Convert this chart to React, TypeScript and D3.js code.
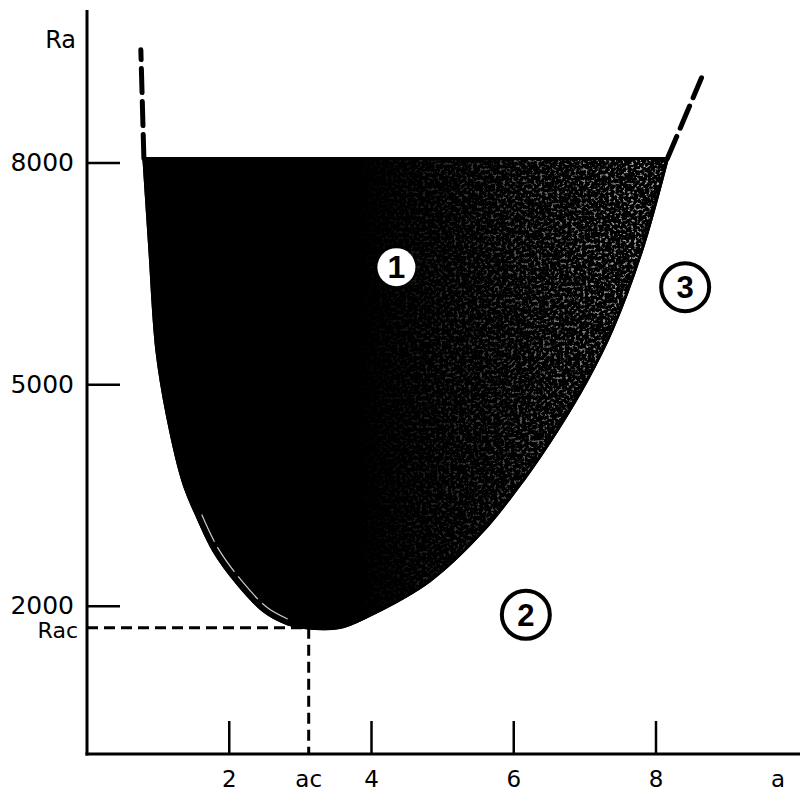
import * as d3 from 'd3';

// neutral curve (wave number a, Rayleigh number Ra)
const boundaryA  = [0.80, 0.884, 0.982, 1.136, 1.36, 1.557, 1.781, 2.118, 2.482, 2.819, 3.05, 3.55, 3.98, 4.82, 5.57, 6.13, 6.61, 7.03, 7.38, 7.80, 8.16];
const boundaryRa = [8060, 6820, 5464, 4556, 3661, 3200, 2753, 2305, 1939, 1763, 1712, 1712, 1880, 2346, 3024, 3702, 4380, 5058, 5736, 6820, 8060];

// dashed continuation above the cut
const leftDashA   = [0.80, 0.757];
const leftDashRa  = [8060, 9532];
const rightDashA  = [8.16, 8.64];
const rightDashRa = [8060, 9153];

const xTicks = [2, 4, 6, 8];
const yTicks = [8000, 5000, 2000];
const Rac = 1708;
const ac = 3.117;

const regionLabels = ['1', '3', '2'];
const regionA  = [4.35, 8.41, 6.17];
const regionRa = [6590, 6319, 1885];

const W = 801, H = 794;
const FONT = 'DejaVu Sans, sans-serif';

export default function App() {
  const x = d3.scaleLinear().domain([0, 8]).range([87, 656]);
  const y = d3.scaleLinear().domain([0, 8000]).range([754, 163]);

  const pts: [number, number][] = boundaryA.map((a, i) => [a, boundaryRa[i]]);
  const line = d3.line<[number, number]>().x(d => x(d[0])).y(d => y(d[1])).curve(d3.curveCatmullRom.alpha(0.5));
  const area = line(pts) + 'Z';
  const rim = line(pts.slice(5, 10));
  const dashLine = d3.line<[number, number]>().x(d => x(d[0])).y(d => y(d[1]));
  const leftDash  = dashLine(leftDashA.map((a, i) => [a, leftDashRa[i]]));
  const rightDash = dashLine(rightDashA.map((a, i) => [a, rightDashRa[i]]));

  const x0 = x(0), y0 = y(0);
  const tickLen = 33;

  return (
    <svg width={W} height={H} style={{ position: 'absolute', left: 0, top: 0, background: '#fff' }}>
      <defs>
        <clipPath id="shadeClip"><path d={area} /></clipPath>
        <linearGradient id="fade" gradientUnits="userSpaceOnUse" x1={x(3.8)} y1={0} x2={x(7.8)} y2={0}>
          <stop offset="0" stopColor="#fff" stopOpacity={0} />
          <stop offset="0.45" stopColor="#fff" stopOpacity={0.35} />
          <stop offset="1" stopColor="#fff" stopOpacity={0.9} />
        </linearGradient>
        <mask id="fadeMask" maskUnits="userSpaceOnUse" x={0} y={0} width={W} height={H}>
          <rect x={0} y={0} width={W} height={H} fill="url(#fade)" />
        </mask>
        <filter id="speckle" x="0" y="0" width="100%" height="100%">
          <feTurbulence type="fractalNoise" baseFrequency="0.35" numOctaves="3" seed="11" />
          <feColorMatrix type="matrix" values="0 0 0 0 1  0 0 0 0 1  0 0 0 0 1  5 0 0 0 -2.75" />
        </filter>
      </defs>

      {/* shaded region */}
      <path d={area} fill="#000" stroke="#000" strokeWidth={3} strokeLinejoin="round" />
      <g clipPath="url(#shadeClip)" mask="url(#fadeMask)">
        <rect x={x(3)} y={y(8200)} width={x(8.3) - x(3)} height={y(1600) - y(8200)} filter="url(#speckle)" opacity={0.75} />
      </g>
      <path d={area} fill="none" stroke="#000" strokeWidth={3} />
      <path d={rim ?? ''} transform="translate(4,-3)" fill="none" stroke="#fff" strokeWidth={1.2} strokeDasharray="30 6" opacity={0.8} />

      {/* dashed continuations */}
      <path d={leftDash ?? ''} fill="none" stroke="#000" strokeWidth={5} strokeDasharray="24 9" strokeLinecap="round" />
      <path d={rightDash ?? ''} fill="none" stroke="#000" strokeWidth={5} strokeDasharray="24 9" strokeLinecap="round" />

      {/* Rac / ac guides */}
      <line x1={x0} x2={x(ac) - 6} y1={y(Rac)} y2={y(Rac)} stroke="#000" strokeWidth={3} strokeDasharray="11 6" />
      <line x1={x(ac)} x2={x(ac)} y1={y(Rac)} y2={y0} stroke="#000" strokeWidth={3} strokeDasharray="11 6" />

      {/* axes */}
      <line x1={x0} x2={x0} y1={10} y2={y0 + 1.5} stroke="#000" strokeWidth={3} />
      <line x1={x0 - 1.5} x2={800} y1={y0} y2={y0} stroke="#000" strokeWidth={3} />

      {xTicks.map(t => (
        <g key={'x' + t}>
          <line x1={x(t)} x2={x(t)} y1={y0} y2={y0 - tickLen} stroke="#000" strokeWidth={2.5} />
          <text x={x(t)} y={787} textAnchor="middle" fontFamily={FONT} fontSize={23}>{t}</text>
        </g>
      ))}
      <text x={x(ac)} y={787} textAnchor="middle" fontFamily={FONT} fontSize={23}>ac</text>
      <text x={778} y={787} textAnchor="middle" fontFamily={FONT} fontSize={23}>a</text>

      {yTicks.map(t => (
        <g key={'y' + t}>
          <line x1={x0} x2={x0 + tickLen} y1={y(t)} y2={y(t)} stroke="#000" strokeWidth={2.5} />
          <text x={74} y={y(t) + 8} textAnchor="end" fontFamily={FONT} fontSize={25}>{t}</text>
        </g>
      ))}
      <text x={78} y={y(Rac) + 10} textAnchor="end" fontFamily={FONT} fontSize={22}>Rac</text>
      <text x={76} y={48} textAnchor="end" fontFamily={FONT} fontSize={24}>Ra</text>

      {/* region labels */}
      {regionLabels.map((lab, i) => {
        const cx = x(regionA[i]), cy = y(regionRa[i]);
        const inside = i === 0;
        return (
          <g key={'r' + lab}>
            <circle cx={cx} cy={cy} r={inside ? 19 : 24} fill="#fff" stroke={inside ? 'none' : '#000'} strokeWidth={4} />
            <text x={cx} y={cy + 11} textAnchor="middle" fontFamily="Liberation Sans, sans-serif" fontWeight="bold" fontSize={inside ? 32 : 31}>{lab}</text>
          </g>
        );
      })}
    </svg>
  );
}
